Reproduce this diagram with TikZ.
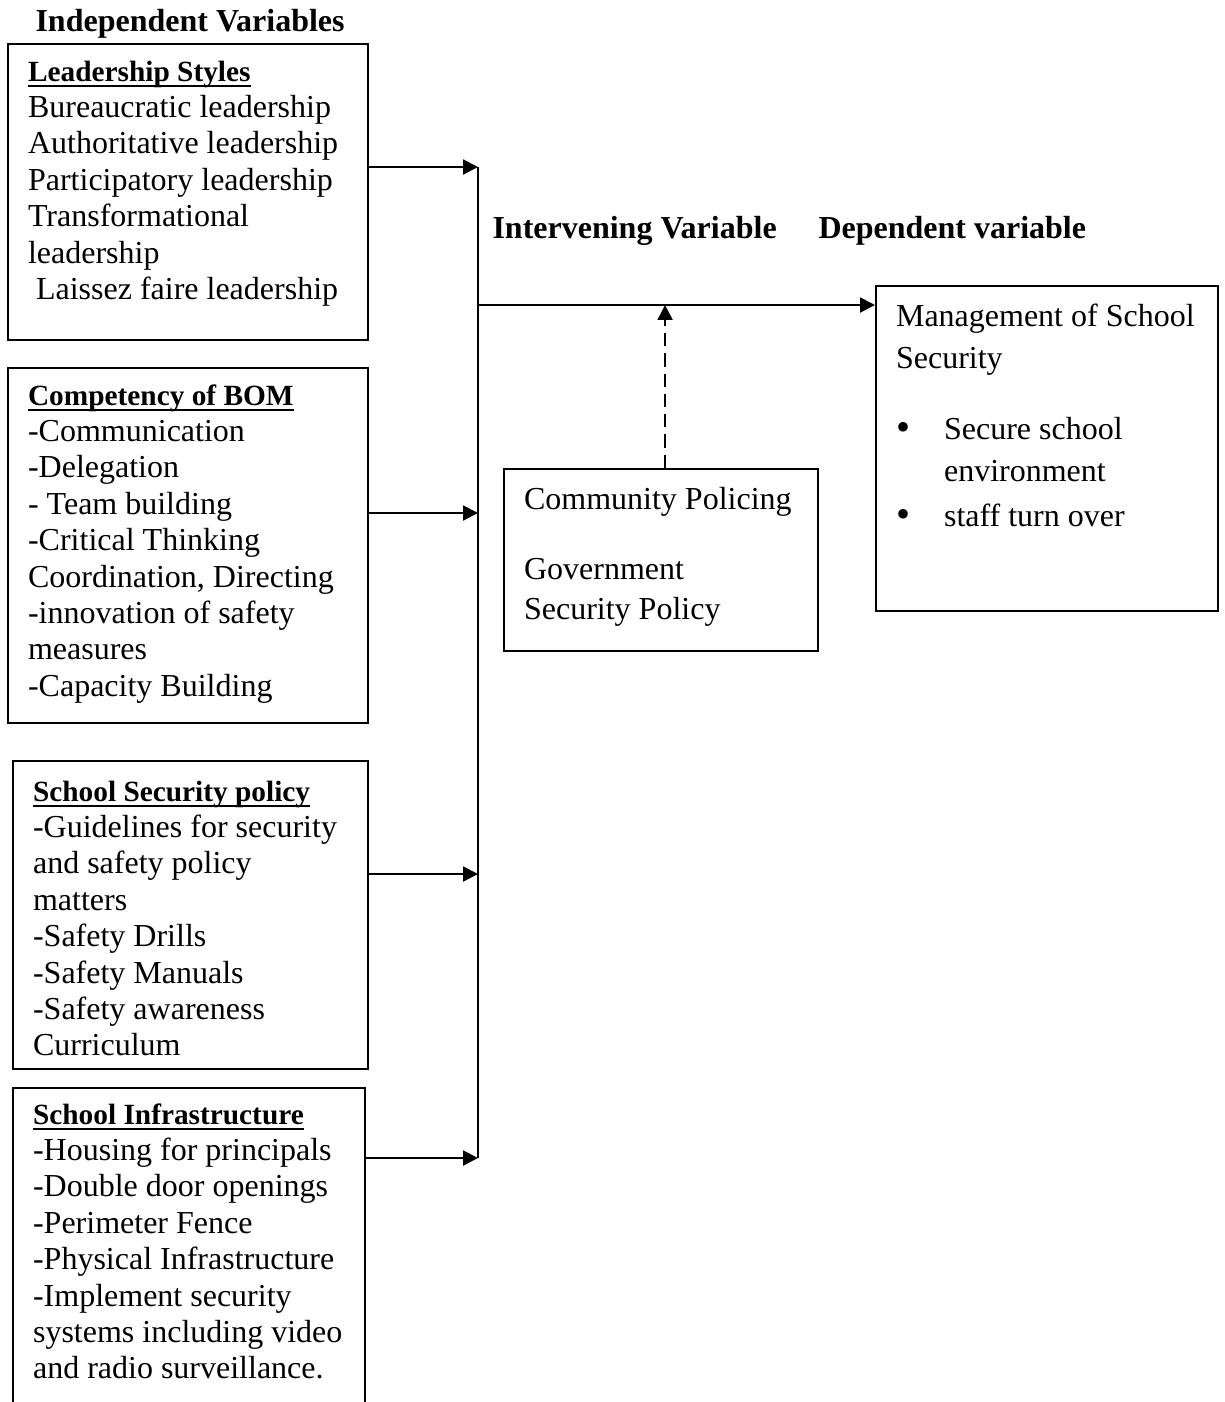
\documentclass[tikz,border=0pt]{standalone}
\usepackage{fontspec}
\setmainfont{Liberation Serif}
\usetikzlibrary{positioning,arrows.meta,calc}

\newcommand{\ulhead}[1]{\textbf{\fontsize{11}{13.65}\selectfont\setbox0=\hbox{#1}\rlap{\rule[-2.2pt]{\wd0}{0.7pt}}\box0}}
\newcommand{\bul}{\makebox[18pt][l]{\raisebox{-0.6pt}{\fontsize{15}{15}\selectfont\textbullet}}}

\begin{document}
\begin{tikzpicture}[
    x=0.375pt, y=-0.375pt,
    varbox/.style={rectangle, draw, thick, anchor=north west, align=flush left, inner xsep=7.5pt, inner ysep=0pt, text height=13.9pt, font=\fontsize{12}{13.65}\selectfont, execute at begin node={\rightskip=0pt plus 1fil minus 10pt\relax}},
    heading/.style={anchor=base west, inner sep=0pt, font=\fontsize{12}{14}\selectfont\bfseries},
    arr/.style={-{Triangle[length=5.6pt,width=5.6pt]}, thick}
]

\useasboundingbox (0,0) rectangle (1224,1402);

\node[heading] (indep) at (35,31) {Independent Variables};
\node[heading] (interv) at (492,238) {Intervening Variable};
\node[heading] (depv) at (818,238) {Dependent variable};

\node[varbox, text width=120pt, text depth=97.1pt] (lead) at (7,43) {\ulhead{Leadership Styles}\\
Bureaucratic leadership\\
Authoritative leadership\\
Participatory leadership\\
Transformational\\
leadership\\
\hspace*{3pt}Laissez faire leadership};
\node[varbox, text width=120pt, text depth=119.25pt] (comp) at (7,367) {\ulhead{Competency of BOM}\\
-Communication\\
-Delegation\\
- Team building\\
-Critical Thinking\\
Coordination, Directing\\
-innovation of safety\\
measures\\
-Capacity Building};
\node[varbox, text width=118.1pt, text height=15pt, text depth=100.5pt] (policy) at (12,760) {\ulhead{School Security policy}\\
-Guidelines for security\\
and safety policy\\
matters\\
-Safety Drills\\
-Safety Manuals\\
-Safety awareness\\
Curriculum};
\node[varbox, text width=117pt, text height=13.5pt, text depth=109.5pt] (infra) at (12,1087) {\ulhead{School Infrastructure}\\
-Housing for principals\\
-Double door openings\\
-Perimeter Fence\\
-Physical Infrastructure\\
-Implement security\\
systems including video\\
and radio surveillance.};

\node[varbox, text width=102.75pt, text height=15pt, text depth=53.25pt, font=\fontsize{12}{15}\selectfont] (inter) at (503,468) {Community Policing\\[11.25pt]
Government\\
Security Policy};
\node[varbox, text width=113.25pt, text height=15pt, text depth=106.9pt, font=\fontsize{12}{15.75}\selectfont] (dep) at (875,285) {Management of School\\
Security\\[10.9pt]
\bul Secure school\\
\hspace*{18pt}environment\\[1.1pt]
\bul staff turn over};

\coordinate (t1) at (478,167);
\coordinate (tm) at (478,305);
\coordinate (t2) at (478,513);
\coordinate (t3) at (478,874);
\coordinate (t4) at (478,1158);
\coordinate (dtop) at ([xshift=1.5pt]inter.north);

\draw[thick] (t1) -- (t4);
\draw[arr] (lead.east |- t1) -- (t1);
\draw[arr] (comp.east |- t2) -- (t2);
\draw[arr] (policy.east |- t3) -- (t3);
\draw[arr] (infra.east |- t4) -- (t4);
\draw[arr] (tm) -- (dep.west |- tm);
\draw[arr, dash pattern=on 5pt off 2.6pt] (dtop) -- (dtop |- tm);

\end{tikzpicture}
\end{document}
